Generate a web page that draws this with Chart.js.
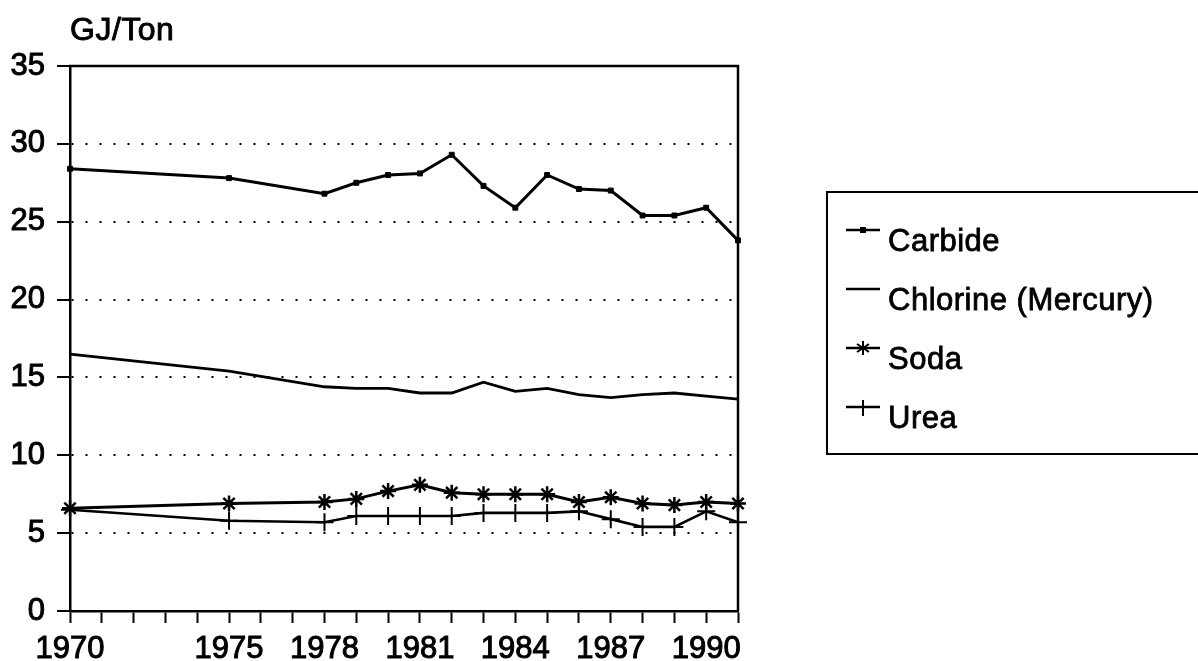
<!DOCTYPE html>
<html>
<head>
<meta charset="utf-8">
<script src="https://cdn.jsdelivr.net/npm/chart.js@4/dist/chart.umd.min.js"></script>
<style>
  html, body { margin: 0; padding: 0; background: #fff; }
  body { width: 1198px; height: 661px; position: relative; overflow: hidden;
         font-family: "Liberation Sans", Arial, sans-serif; color: #000; }
  #chart { position: absolute; left: 0; top: 0; }
  #unit { position: absolute; left: 70px; top: 13px; font-size: 32px; line-height: 32px; white-space: nowrap;
          -webkit-text-stroke: 0.9px #000; letter-spacing: 0.5px; }
  #legendBox { position: absolute; left: 826px; top: 191px; width: 420px; height: 264px;
               border: 2px solid #000; box-sizing: border-box; }
  .lgText { position: absolute; left: 888px; font-size: 31px; line-height: 30px; white-space: nowrap;
            -webkit-text-stroke: 0.8px #000; letter-spacing: 0.5px; }
  .lgIcon { position: absolute; left: 844px; }
</style>
</head>
<body>
<canvas id="chart" width="1198" height="661"></canvas>
<div id="unit">GJ/Ton</div>
<div id="legendBox"></div>
<div id="legend"></div>

<script>
// years with a reading
var years = [1970, 1975, 1978, 1979, 1980, 1981, 1982, 1983, 1984, 1985, 1986, 1987, 1988, 1989, 1990, 1991];

// GJ per ton
var carbide  = [28.4, 27.8, 26.8, 27.5, 28.0, 28.1, 29.3, 27.3, 25.9, 28.0, 27.1, 27.0, 25.4, 25.4, 25.9, 23.8];
var chlorine = [16.5, 15.4, 14.4, 14.3, 14.3, 14.0, 14.0, 14.7, 14.1, 14.3, 13.9, 13.7, 13.9, 14.0, 13.8, 13.6];
var soda     = [6.6, 6.9, 7.0, 7.2, 7.7, 8.1, 7.6, 7.5, 7.5, 7.5, 7.0, 7.3, 6.9, 6.8, 7.0, 6.9];
var urea     = [6.5, 5.8, 5.7, 6.1, 6.1, 6.1, 6.1, 6.3, 6.3, 6.3, 6.4, 5.9, 5.4, 5.4, 6.4, 5.7];

var seriesNames = ['Carbide', 'Chlorine (Mercury)', 'Soda', 'Urea'];
var xLabelYears = [1970, 1975, 1978, 1981, 1984, 1987, 1990];
var yMin = 0, yMax = 35, yStep = 5;
var xMin = 1970, xMax = 1991;

function pts(vals) {
  return years.map(function (yr, i) { return { x: yr, y: vals[i] }; });
}

// top and right edges of the plot box
var frame = {
  id: 'frame',
  beforeDatasetsDraw: function (chart) {
    var a = chart.chartArea, ctx = chart.ctx;
    ctx.save();
    ctx.strokeStyle = '#000';
    ctx.lineWidth = 2.5;
    ctx.beginPath();
    ctx.moveTo(a.left - 1, a.top);
    ctx.lineTo(a.right, a.top);
    ctx.lineTo(a.right, a.bottom);
    ctx.stroke();
    ctx.restore();
  }
};

var tickFont = { family: '"Liberation Sans", Arial, sans-serif', size: 31 };

new Chart(document.getElementById('chart'), {
  type: 'line',
  data: {
    datasets: [
      { label: seriesNames[0], data: pts(carbide), borderColor: '#000', backgroundColor: '#000',
        borderWidth: 3, pointStyle: 'rect', pointRadius: 3.5, pointBorderWidth: 1, clip: false },
      { label: seriesNames[1], data: pts(chlorine), borderColor: '#000', backgroundColor: '#000',
        borderWidth: 2.8, pointRadius: 0, clip: false },
      { label: seriesNames[2], data: pts(soda), borderColor: '#000', backgroundColor: '#000',
        borderWidth: 3, pointStyle: 'star', pointRadius: 8, pointBorderWidth: 2.5, clip: false },
      { label: seriesNames[3], data: pts(urea), borderColor: '#000', backgroundColor: '#000',
        borderWidth: 2.6, pointStyle: 'cross', pointRadius: 9, pointBorderWidth: 2, clip: false }
    ]
  },
  options: {
    responsive: false,
    animation: false,
    devicePixelRatio: 1,
    layout: { padding: { top: 66, right: 460, bottom: 0, left: 0 } },
    elements: { line: { tension: 0 } },
    plugins: {
      legend: { display: false },
      tooltip: { enabled: false },
      title: { display: false }
    },
    scales: {
      x: {
        type: 'linear',
        min: xMin,
        max: xMax,
        afterFit: function (s) { s.height = 50; },
        ticks: {
          stepSize: 1,
          autoSkip: false,
          maxRotation: 0,
          padding: 8,
          color: '#000',
          font: tickFont,
          textStrokeColor: '#000',
          textStrokeWidth: 1,
          callback: function (v) { return xLabelYears.indexOf(v) >= 0 ? String(v) : ''; }
        },
        grid: { drawOnChartArea: false, drawTicks: true, tickLength: 12, tickWidth: 2, tickColor: '#000' },
        border: { display: true, color: '#000', width: 2.5 }
      },
      y: {
        min: yMin,
        max: yMax,
        afterFit: function (s) { s.width = 70; },
        ticks: { stepSize: yStep, padding: 12, color: '#000', font: tickFont,
                 textStrokeColor: '#000', textStrokeWidth: 1 },
        grid: { color: '#000', lineWidth: 2, drawTicks: true, tickLength: 13, tickWidth: 2,
                tickColor: '#000', tickBorderDash: [] },
        border: { display: true, color: '#000', width: 2.5, dash: [2, 12] }
      }
    }
  },
  plugins: [frame]
});

// legend rows: line + marker, then the name
var rowCenters = [241, 300, 359, 418];
var legend = document.getElementById('legend');
seriesNames.forEach(function (name, i) {
  var c = document.createElement('canvas');
  c.width = 40; c.height = 24;
  c.className = 'lgIcon';
  var lineY = rowCenters[i] - 11;
  c.style.top = (lineY - 12) + 'px';
  var g = c.getContext('2d');
  g.strokeStyle = '#000'; g.fillStyle = '#000';
  g.lineWidth = 2.5;
  g.beginPath(); g.moveTo(2, 12); g.lineTo(36, 12); g.stroke();
  var cx = 19, cy = 12;
  if (i === 0) {
    g.fillRect(cx - 3, cy - 3, 6, 6);
  } else if (i === 2) {
    g.lineWidth = 2;
    g.beginPath();
    g.moveTo(cx, cy - 7); g.lineTo(cx, cy + 7);
    g.moveTo(cx - 6, cy - 4); g.lineTo(cx + 6, cy + 4);
    g.moveTo(cx - 6, cy + 4); g.lineTo(cx + 6, cy - 4);
    g.stroke();
  } else if (i === 3) {
    g.lineWidth = 2;
    g.beginPath(); g.moveTo(cx, cy - 7); g.lineTo(cx, cy + 9); g.stroke();
  }
  legend.appendChild(c);

  var t = document.createElement('div');
  t.className = 'lgText';
  t.style.top = (rowCenters[i] - 14.6) + 'px';
  t.textContent = name;
  legend.appendChild(t);
});
</script>
</body>
</html>
